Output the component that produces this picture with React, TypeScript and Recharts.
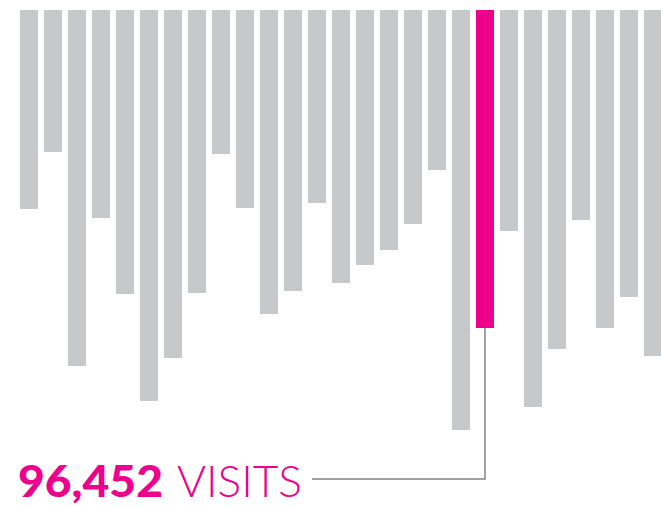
import { BarChart, Bar, XAxis, YAxis, Cell } from "recharts";

// daily visits, drawn as bar length hanging from the top
const days = [
  "1", "2", "3", "4", "5", "6", "7", "8", "9", "10", "11", "12", "13", "14",
  "15", "16", "17", "18", "19", "20", "21", "22", "23", "24", "25", "26", "27",
];
const visits = [
  199, 142, 356, 208, 284, 391, 348, 283, 144, 198, 304, 281, 193, 273,
  255, 240, 214, 160, 420, 318, 221, 397, 339, 210, 318, 287, 346,
];
const highlightIndex = 19;
const highlightValue = "96,452";
const highlightUnit = "VISITS";

const data = days.map((d, i) => ({ day: d, visits: visits[i] }));

const PINK = "#EC008C";
const GRAY = "#C7C8CA";

function Callout(props: any) {
  const { x, y, width, height, index } = props;
  if (index !== highlightIndex) return null;
  const cx = x + width / 2;
  // reversed axis: height may come through negative, take the lower edge
  const bottom = Math.max(y, y + height);
  const lineY = 479;
  return (
    <g>
      <polyline
        points={`${cx},${bottom} ${cx},${lineY} 312,${lineY}`}
        fill="none"
        stroke="#808285"
        strokeWidth={1.5}
      />
      <text
        x={18}
        y={497}
        fill={PINK}
        fontFamily="Lato, 'Open Sans', sans-serif"
        fontWeight={900}
        fontSize={43}
        textLength={145}
        lengthAdjust="spacingAndGlyphs"
      >
        {highlightValue}
      </text>
      <text
        x={177}
        y={497}
        fill={PINK}
        fontFamily="Lato, 'Open Sans', sans-serif"
        fontWeight={300}
        fontSize={43}
        textLength={125}
        lengthAdjust="spacingAndGlyphs"
      >
        {highlightUnit}
      </text>
    </g>
  );
}

export default function App() {
  return (
    <div style={{ position: "absolute", left: 0, top: 0, width: 661, height: 506, overflow: "hidden", background: "#fff" }}>
      <BarChart
        width={665}
        height={506}
        data={data}
        margin={{ top: 10, left: 17, right: 0, bottom: 0 }}
        barCategoryGap={0}
      >
        <XAxis dataKey="day" hide />
        <YAxis hide reversed domain={[0, 496]} allowDataOverflow />
        <Bar dataKey="visits" barSize={18} isAnimationActive={false} label={<Callout />}>
          {data.map((entry, i) => (
            <Cell key={entry.day} fill={i === highlightIndex ? PINK : GRAY} />
          ))}
        </Bar>
      </BarChart>
    </div>
  );
}
